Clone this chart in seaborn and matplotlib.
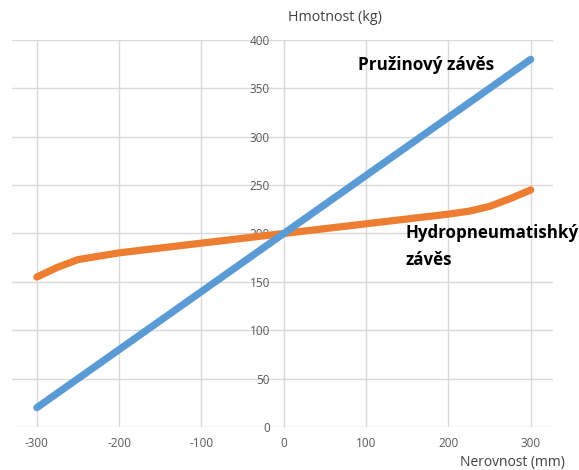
import matplotlib
matplotlib.use("Agg")
import matplotlib.pyplot as plt
import seaborn as sns
import pandas as pd

x_spring = [-300, 0, 300]
y_spring = [20, 200, 380]
x_hydro = [-300, -275, -250, -200, -150, -100, -50, 0, 50, 100, 150, 200, 225, 250, 275, 300]
y_hydro = [155, 165, 173, 180, 185, 190, 195, 200, 205, 210, 215, 220, 223, 228, 236, 245]
x_ticks = [-300, -200, -100, 0, 100, 200, 300]
y_ticks = [0, 50, 100, 150, 200, 250, 300, 350, 400]
label_spring = "Pružinový závěs"
label_hydro = "Hydropneumatishký\nzávěs"
x_title = "Nerovnost (mm)"
y_title = "Hmotnost (kg)"

sns.set_style("white")
plt.rcParams['font.family'] = ['Open Sans', 'DejaVu Sans']
plt.rcParams['axes.unicode_minus'] = False

fig = plt.figure(figsize=(5.79, 4.70), dpi=100)
ax = fig.add_axes([0.021, 0.0915, 0.934, 0.8235])

df_s = pd.DataFrame({"x": x_spring, "y": y_spring})
df_h = pd.DataFrame({"x": x_hydro, "y": y_hydro})
sns.lineplot(data=df_h, x="x", y="y", ax=ax, color="#ED7D31", lw=5.2,
             solid_capstyle="round", solid_joinstyle="round", zorder=3)
sns.lineplot(data=df_s, x="x", y="y", ax=ax, color="#5B9BD5", lw=5.2,
             solid_capstyle="round", zorder=4)

ax.set_xlim(-330, 327)
ax.set_ylim(0, 400)
ax.set_xticks(x_ticks)
ax.set_yticks(y_ticks)
ax.grid(True, color="#D9D9D9", lw=1.0)
ax.set_axisbelow(True)
for s in ["top", "right", "bottom"]:
    ax.spines[s].set_visible(False)
ax.spines["left"].set_position(("data", 0))
ax.spines["left"].set_color("#D9D9D9")
ax.spines["left"].set_zorder(1)
ax.tick_params(axis="y", length=0, pad=10, labelsize=8.5, labelcolor="#595959")
ax.tick_params(axis="x", length=0, pad=7, labelsize=8.5, labelcolor="#595959")
ax.set_xlabel("")
ax.set_ylabel("")

fig.text(0.498, 0.962, y_title, fontsize=10.3, color="#404040", ha="left", va="center")
fig.text(0.976, 0.0, x_title, fontsize=10, color="#404040", ha="right", va="bottom")

ax.text(90, 374, label_spring, fontsize=12.3, fontweight="bold", color="#000000",
        ha="left", va="center")
ax.text(148, 210, label_hydro, fontsize=12.2, fontweight="bold", color="#000000",
        ha="left", va="top", linespacing=1.65)

fig.savefig("out.png", dpi=100)
